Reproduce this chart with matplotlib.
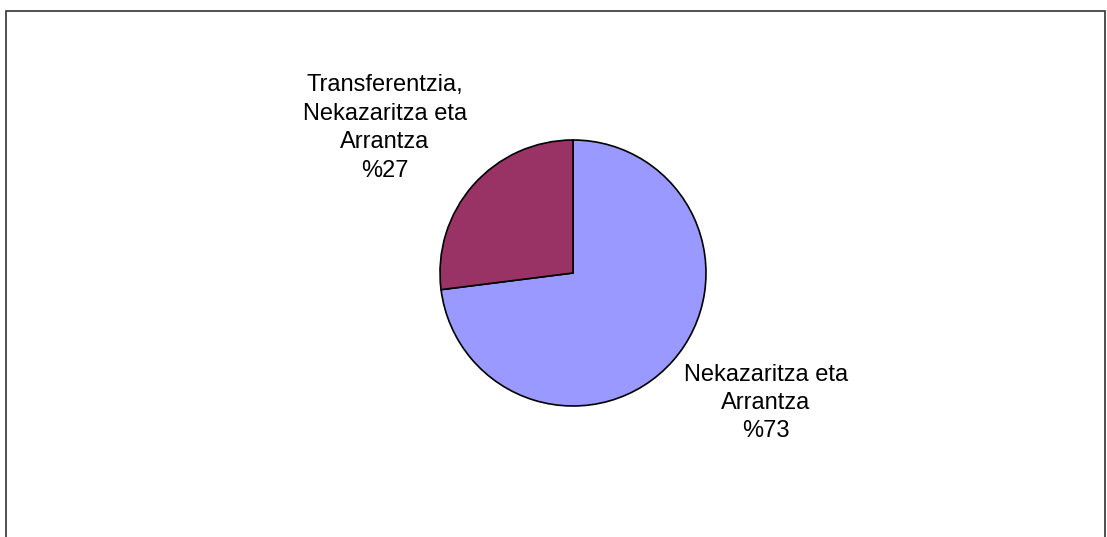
import matplotlib
matplotlib.use('Agg')
import matplotlib.pyplot as plt
from matplotlib.patches import Rectangle

categories = ['Nekazaritza eta\nArrantza', 'Transferentzia,\nNekazaritza eta\nArrantza']
values = [73, 27]
colors = ['#9999FF', '#993366']

plt.rcParams['font.family'] = ['Liberation Sans', 'DejaVu Sans']

W, H = 1107, 537
fig = plt.figure(figsize=(W / 100, H / 100), dpi=100)

# chart border (bottom edge is cut off in the original)
fig.patches.append(Rectangle((6 / W, -0.1), 1099 / W, 0.1 + (H - 11) / H,
                             transform=fig.transFigure, fill=False,
                             edgecolor='#333333', linewidth=1.2))

r = 133
cx, cy = 573, H - 273
ax = fig.add_axes([(cx - r) / W, (cy - r) / H, 2 * r / W, 2 * r / H])
ax.pie(values, colors=colors, startangle=90, counterclock=False, radius=1,
       wedgeprops=dict(edgecolor='black', linewidth=1.2))
ax.set_xlim(-1, 1)
ax.set_ylim(-1, 1)
ax.set_aspect('equal')
ax.axis('off')

label_pos = [((766 - cx) / r, (273 - 403) / r), ((385 - cx) / r, (273 - 128) / r)]
for cat, v, (x, y) in zip(categories, values, label_pos):
    ax.text(x, y, '%s\n%%%d' % (cat, v), ha='center', va='center',
            fontsize=17, linespacing=1.38, clip_on=False)

fig.savefig('out.png', dpi=100)
